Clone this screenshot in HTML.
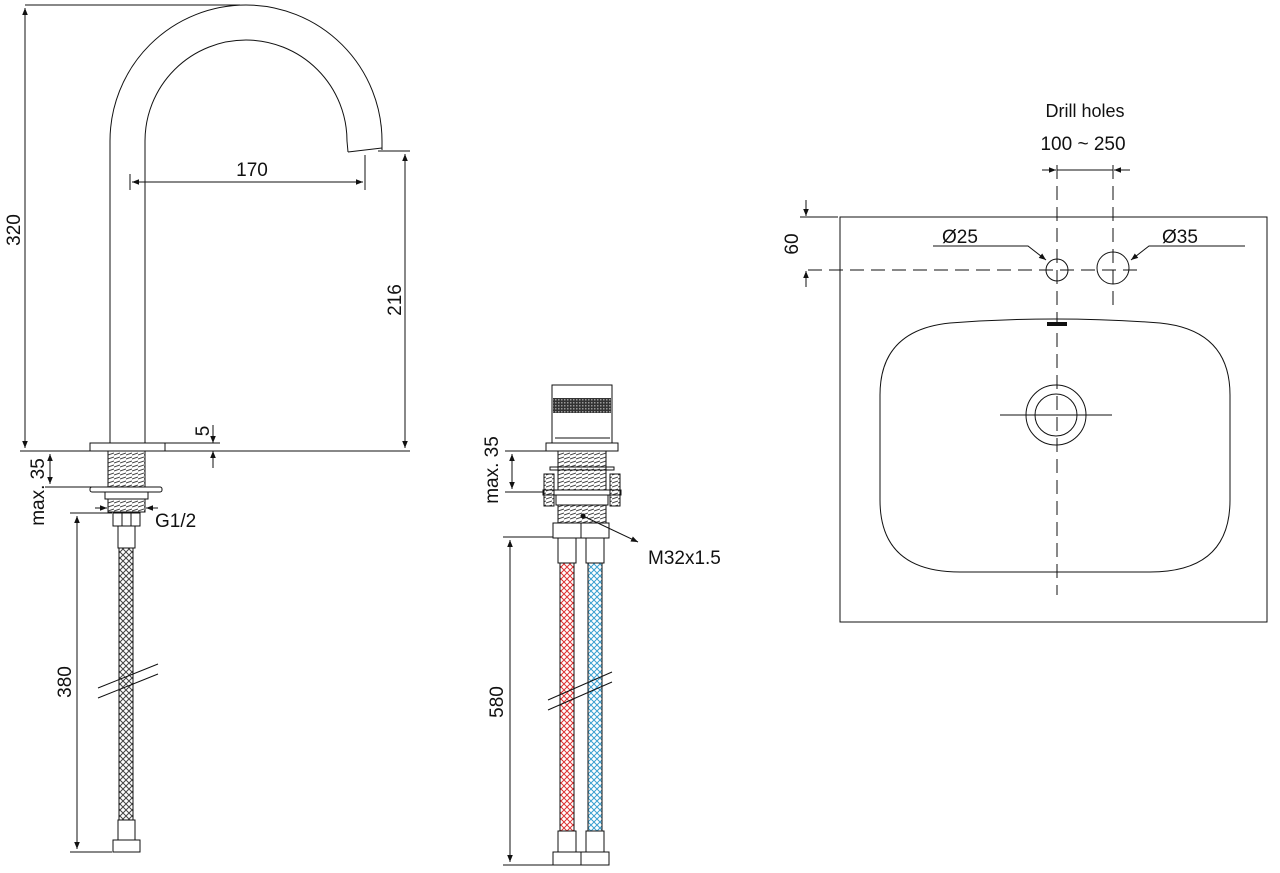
<!DOCTYPE html>
<html><head><meta charset="utf-8"><style>
html,body{margin:0;padding:0;background:#fff;}
svg{display:block;}
text{font-family:"Liberation Sans",sans-serif;fill:#111;}
</style></head><body>
<svg width="1280" height="873" viewBox="0 0 1280 873" xmlns="http://www.w3.org/2000/svg">
<defs>
<marker id="a" viewBox="0 0 10 10" refX="10" refY="5" markerWidth="9" markerHeight="7" orient="auto-start-reverse" markerUnits="userSpaceOnUse"><path d="M0,1 L10,5 L0,9z" fill="#111"/></marker>
<pattern id="br" width="6" height="6" patternUnits="userSpaceOnUse"><path d="M0,0 L6,6 M6,0 L0,6" stroke="#444" stroke-width="1"/></pattern>
<pattern id="brr" width="6" height="6" patternUnits="userSpaceOnUse"><path d="M0,0 L6,6 M6,0 L0,6" stroke="#d33" stroke-width="1"/></pattern>
<pattern id="brb" width="6" height="6" patternUnits="userSpaceOnUse"><path d="M0,0 L6,6 M6,0 L0,6" stroke="#3a9fd0" stroke-width="1"/></pattern>
<pattern id="th" width="6" height="4" patternUnits="userSpaceOnUse"><path d="M0,3 L6,1" stroke="#444" stroke-width="1"/></pattern>
<pattern id="kn" width="3" height="3" patternUnits="userSpaceOnUse"><rect width="3" height="3" fill="#333"/><rect width="1.5" height="1.5" fill="#999"/></pattern>
</defs>
<g fill="none" stroke="#111" stroke-width="1">
<path d="M110,443 V141 A136,136 0 0 1 382,141 L382,150"/>
<path d="M145,443 V141 A101,101 0 0 1 347,141 L348,152"/>
<path d="M348,152 L382,148"/>
<rect x="90" y="443" width="75" height="8"/>
<line x1="20" y1="451" x2="410" y2="451"/>
<line x1="25" y1="5" x2="240" y2="5"/>
<line x1="25" y1="8" x2="25" y2="448" marker-start="url(#a)" marker-end="url(#a)"/>
<line x1="378" y1="151" x2="410" y2="151"/>
<line x1="405" y1="154" x2="405" y2="448" marker-start="url(#a)" marker-end="url(#a)"/>
<line x1="130" y1="174" x2="130" y2="190"/>
<line x1="365" y1="155" x2="365" y2="190"/>
<line x1="132" y1="182" x2="363" y2="182" marker-start="url(#a)" marker-end="url(#a)"/>
<line x1="165" y1="443" x2="220" y2="443"/>
<line x1="213" y1="425" x2="213" y2="443" marker-end="url(#a)"/>
<line x1="213" y1="468" x2="213" y2="451" marker-end="url(#a)"/>
<rect x="108" y="451" width="37" height="36" fill="url(#th)"/>
<line x1="45" y1="487" x2="92" y2="487"/>
<line x1="50" y1="454" x2="50" y2="484" marker-start="url(#a)" marker-end="url(#a)"/>
<rect x="90" y="487" width="72" height="5" rx="2"/>
<rect x="105" y="492" width="43" height="7"/>
<rect x="108" y="499" width="37" height="13" fill="url(#th)"/>
<line x1="95" y1="508" x2="107" y2="508" marker-end="url(#a)"/>
<line x1="158" y1="508" x2="146" y2="508" marker-end="url(#a)"/>
<rect x="113" y="513" width="27" height="13"/>
<line x1="122" y1="513" x2="122" y2="526"/><line x1="131" y1="513" x2="131" y2="526"/>
<rect x="118" y="526" width="17" height="22"/>
<rect x="119" y="548" width="14" height="272" fill="url(#br)"/>
<rect x="118" y="820" width="17" height="20"/>
<rect x="113" y="840" width="27" height="12"/>
<line x1="70" y1="513" x2="112" y2="513"/>
<line x1="70" y1="852" x2="112" y2="852"/>
<line x1="77" y1="516" x2="77" y2="849" marker-start="url(#a)" marker-end="url(#a)"/>
<line x1="98" y1="688" x2="158" y2="664"/>
<line x1="98" y1="698" x2="158" y2="674"/>
<rect x="552" y="385" width="60" height="58"/>
<rect x="553" y="398" width="58" height="15" fill="url(#kn)" stroke="none"/>
<line x1="555" y1="438" x2="610" y2="438"/>
<rect x="546" y="443" width="72" height="8"/>
<rect x="558" y="451" width="48" height="39" fill="url(#th)"/>
<rect x="550" y="467" width="64" height="3"/>
<rect x="544" y="474" width="10" height="32" fill="url(#th)"/>
<rect x="610" y="474" width="10" height="32" fill="url(#th)"/>
<rect x="543" y="490" width="78" height="5"/>
<rect x="556" y="495" width="52" height="10"/>
<rect x="558" y="505" width="48" height="18" fill="url(#th)"/>
<circle cx="583" cy="516" r="2" fill="#111"/>
<line x1="583" y1="516" x2="638" y2="542" marker-end="url(#a)"/>
<line x1="505" y1="451" x2="546" y2="451"/>
<line x1="505" y1="492" x2="543" y2="492"/>
<line x1="512" y1="454" x2="512" y2="489" marker-start="url(#a)" marker-end="url(#a)"/>
<rect x="553" y="523" width="28" height="15"/><rect x="581" y="523" width="28" height="15"/>
<rect x="558" y="538" width="18" height="25"/><rect x="586" y="538" width="18" height="25"/>
<rect x="560" y="563" width="14" height="268" fill="url(#brr)"/>
<rect x="588" y="563" width="14" height="268" fill="url(#brb)"/>
<rect x="558" y="831" width="18" height="21"/><rect x="586" y="831" width="18" height="21"/>
<rect x="553" y="852" width="28" height="13"/><rect x="581" y="852" width="28" height="13"/>
<line x1="503" y1="537" x2="553" y2="537"/>
<line x1="503" y1="865" x2="553" y2="865"/>
<line x1="510" y1="540" x2="510" y2="862" marker-start="url(#a)" marker-end="url(#a)"/>
<line x1="548" y1="700" x2="612" y2="672"/>
<line x1="548" y1="710" x2="612" y2="682"/>
<rect x="840" y="217" width="427" height="405"/>
<path d="M950,323 Q1055,315 1160,323 Q1230,330 1230,395 V500 Q1230,572 1150,572 H960 Q880,572 880,500 V395 Q880,330 950,323 Z"/>
<rect x="1047" y="322" width="20" height="4" fill="#111" stroke="none"/>
<g stroke-dasharray="14,7">
<line x1="1057" y1="165" x2="1057" y2="595"/>
<line x1="1113" y1="165" x2="1113" y2="305"/>
<line x1="808" y1="270" x2="1143" y2="270"/>
</g>
<circle cx="1057" cy="270" r="11"/>
<circle cx="1113" cy="268" r="16"/>
<circle cx="1056" cy="415" r="30"/>
<circle cx="1056" cy="415" r="21"/>
<line x1="1000" y1="415" x2="1112" y2="415"/>
<line x1="1057" y1="170" x2="1113" y2="170"/>
<line x1="1042" y1="170" x2="1056" y2="170" marker-end="url(#a)"/>
<line x1="1130" y1="170" x2="1114" y2="170" marker-end="url(#a)"/>
<polyline points="933,246 1028,246 1046,260" marker-end="url(#a)"/>
<polyline points="1245,246 1149,246 1131,260" marker-end="url(#a)"/>
<line x1="800" y1="217" x2="838" y2="217"/>
<line x1="806" y1="200" x2="806" y2="216" marker-end="url(#a)"/>
<line x1="806" y1="287" x2="806" y2="271" marker-end="url(#a)"/>
</g>
<g font-size="19">
<text x="252" y="176" text-anchor="middle">170</text>
<text transform="translate(20,230) rotate(-90)" text-anchor="middle">320</text>
<text transform="translate(401,300) rotate(-90)" text-anchor="middle">216</text>
<text transform="translate(209,431) rotate(-90)" text-anchor="middle">5</text>
<text transform="translate(44,492) rotate(-90)" text-anchor="middle">max. 35</text>
<text x="155" y="527">G1/2</text>
<text transform="translate(71,682) rotate(-90)" text-anchor="middle">380</text>
<text transform="translate(498,470) rotate(-90)" text-anchor="middle">max. 35</text>
<text x="648" y="564">M32x1.5</text>
<text transform="translate(503,702) rotate(-90)" text-anchor="middle">580</text>
<text x="1085" y="117" text-anchor="middle" font-size="18">Drill holes</text>
<text x="1083" y="150" text-anchor="middle">100 ~ 250</text>
<text x="942" y="243">Ø25</text>
<text x="1162" y="243">Ø35</text>
<text transform="translate(798,244) rotate(-90)" text-anchor="middle">60</text>
</g>
</svg>
</body></html>
